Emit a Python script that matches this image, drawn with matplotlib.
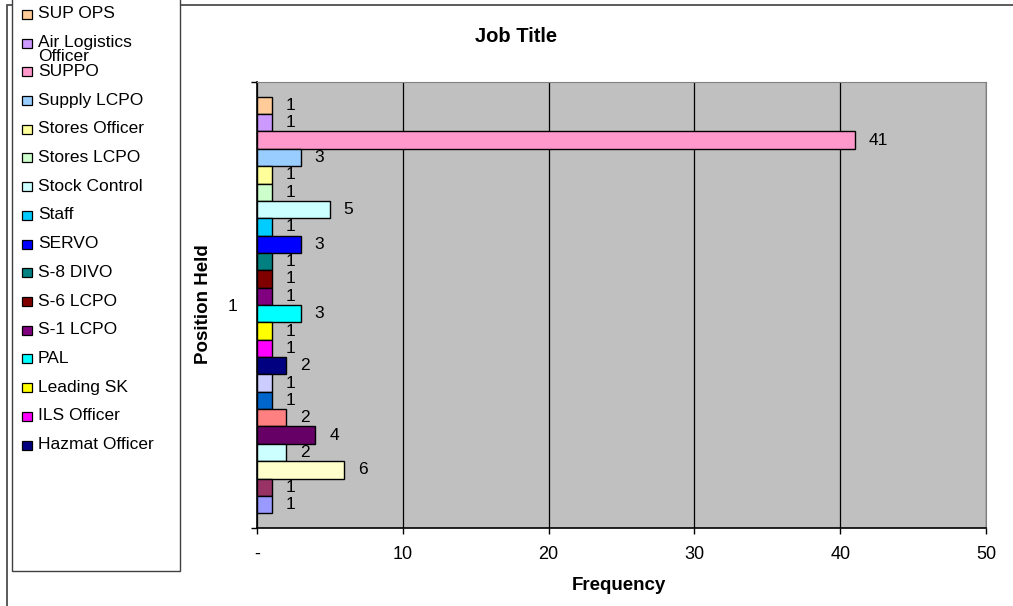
"""Recreate the 'Job Title' frequency bar chart (Excel style)."""

import matplotlib.pyplot as plt
from matplotlib.patches import Rectangle

plt.rcParams["font.family"] = ["Liberation Sans", "DejaVu Sans"]

# one bar per job title, top to bottom
job_titles = [
    "SUP OPS", "Air Logistics\nOfficer", "SUPPO", "Supply LCPO", "Stores Officer",
    "Stores LCPO", "Stock Control", "Staff", "SERVO", "S-8 DIVO", "S-6 LCPO",
    "S-1 LCPO", "PAL", "Leading SK", "ILS Officer", "Hazmat Officer",
]
frequency = [1, 1, 41, 3, 1, 1, 5, 1, 3, 1, 1, 1, 3, 1, 1, 2, 1, 1, 2, 4, 2, 6, 1, 1]
bar_colors = [
    "#FFCC99", "#CC99FF", "#FF99CC", "#99CCFF", "#FFFF99", "#CCFFCC", "#CCFFFF",
    "#00CCFF", "#0000FF", "#008080", "#800000", "#800080", "#00FFFF", "#FFFF00",
    "#FF00FF", "#000080", "#CCCCFF", "#0066CC", "#FF8080", "#660066", "#CCFFFF",
    "#FFFFCC", "#993366", "#9999FF",
]
x_ticks = [0, 10, 20, 30, 40, 50]
x_tick_labels = ["-", "10", "20", "30", "40", "50"]

W, H = 1013, 606
fig = plt.figure(figsize=(W / 100, H / 100), dpi=100)


def fx(px):
    return px / W


def fy(py):
    return 1 - py / H


# outer chart border (top and left visible)
fig.patches.append(Rectangle((fx(7), fy(620)), fx(1020) - fx(7), fy(5) - fy(620),
                             transform=fig.transFigure, fill=False,
                             edgecolor="#404040", linewidth=1.2))

left, right, top, bottom = 257, 986, 82, 528
ax = fig.add_axes([fx(left), fy(bottom), fx(right) - fx(left), fy(top) - fy(bottom)])
ax.set_facecolor("#C0C0C0")

n = len(frequency)
positions = list(range(n))
ax.barh(positions, frequency, height=1.0, color=bar_colors,
        edgecolor="black", linewidth=1.0, zorder=3)
for pos, val in zip(positions, frequency):
    ax.text(val + 0.95, pos, str(val), va="center", ha="left", fontsize=12.5, zorder=4)

pad = 0.85
ax.set_ylim(n - 0.5 + pad, -0.5 - pad)
ax.set_xlim(0, 50)
ax.set_xticks(x_ticks)
ax.set_xticklabels(x_tick_labels, fontsize=13)
ax.set_yticks([-0.5 - pad, n - 0.5 + pad])
ax.set_yticklabels(["", ""])
ax.set_yticks([(n - 1) / 2], minor=True)
ax.set_yticklabels(["1"], minor=True, fontsize=12.5)
ax.tick_params(axis="y", which="minor", length=0, pad=14)
ax.tick_params(axis="both", which="major", length=4, width=1, direction="out")
ax.tick_params(axis="x", pad=9)
ax.xaxis.grid(True, color="black", linewidth=0.9, zorder=1)
ax.set_axisbelow(True)
for side in ("top", "right"):
    ax.spines[side].set_color("#808080")
for side in ("left", "bottom"):
    ax.spines[side].set_color("black")
    ax.spines[side].set_linewidth(1.2)

ax.set_xlabel("Frequency", fontsize=13.5, fontweight="bold", va="center")
ax.xaxis.set_label_coords((619 - left) / (right - left), (bottom - 585) / (bottom - top))
ax.set_ylabel("Position Held", fontsize=13.5, fontweight="bold", va="center")
ax.yaxis.set_label_coords((203 - left) / (right - left), (bottom - 304) / (bottom - top))
fig.text(fx(516), fy(37), "Job Title", fontsize=14.5, fontweight="bold",
         ha="center", va="center")

# legend box with the first sixteen series
fig.patches.append(Rectangle((fx(12), fy(571)), fx(180) - fx(12), fy(-5) - fy(571),
                             transform=fig.transFigure, facecolor="white",
                             edgecolor="#404040", linewidth=1.0, zorder=5))
for i, (name, color) in enumerate(zip(job_titles, bar_colors)):
    y = 14 + i * 28.7
    fig.patches.append(Rectangle((fx(22), fy(y + 5)), fx(32) - fx(22), fy(y - 4) - fy(y + 5),
                                 transform=fig.transFigure, facecolor=color,
                                 edgecolor="black", linewidth=0.9, zorder=6))
    first, *rest = name.split("\n")
    fig.text(fx(38), fy(y), first, fontsize=12.5, ha="left", va="center", zorder=6)
    for j, extra in enumerate(rest, start=1):
        fig.text(fx(38), fy(y + 14 * j), extra, fontsize=12.5, ha="left", va="center", zorder=6)

fig.savefig("out.png", dpi=100)
